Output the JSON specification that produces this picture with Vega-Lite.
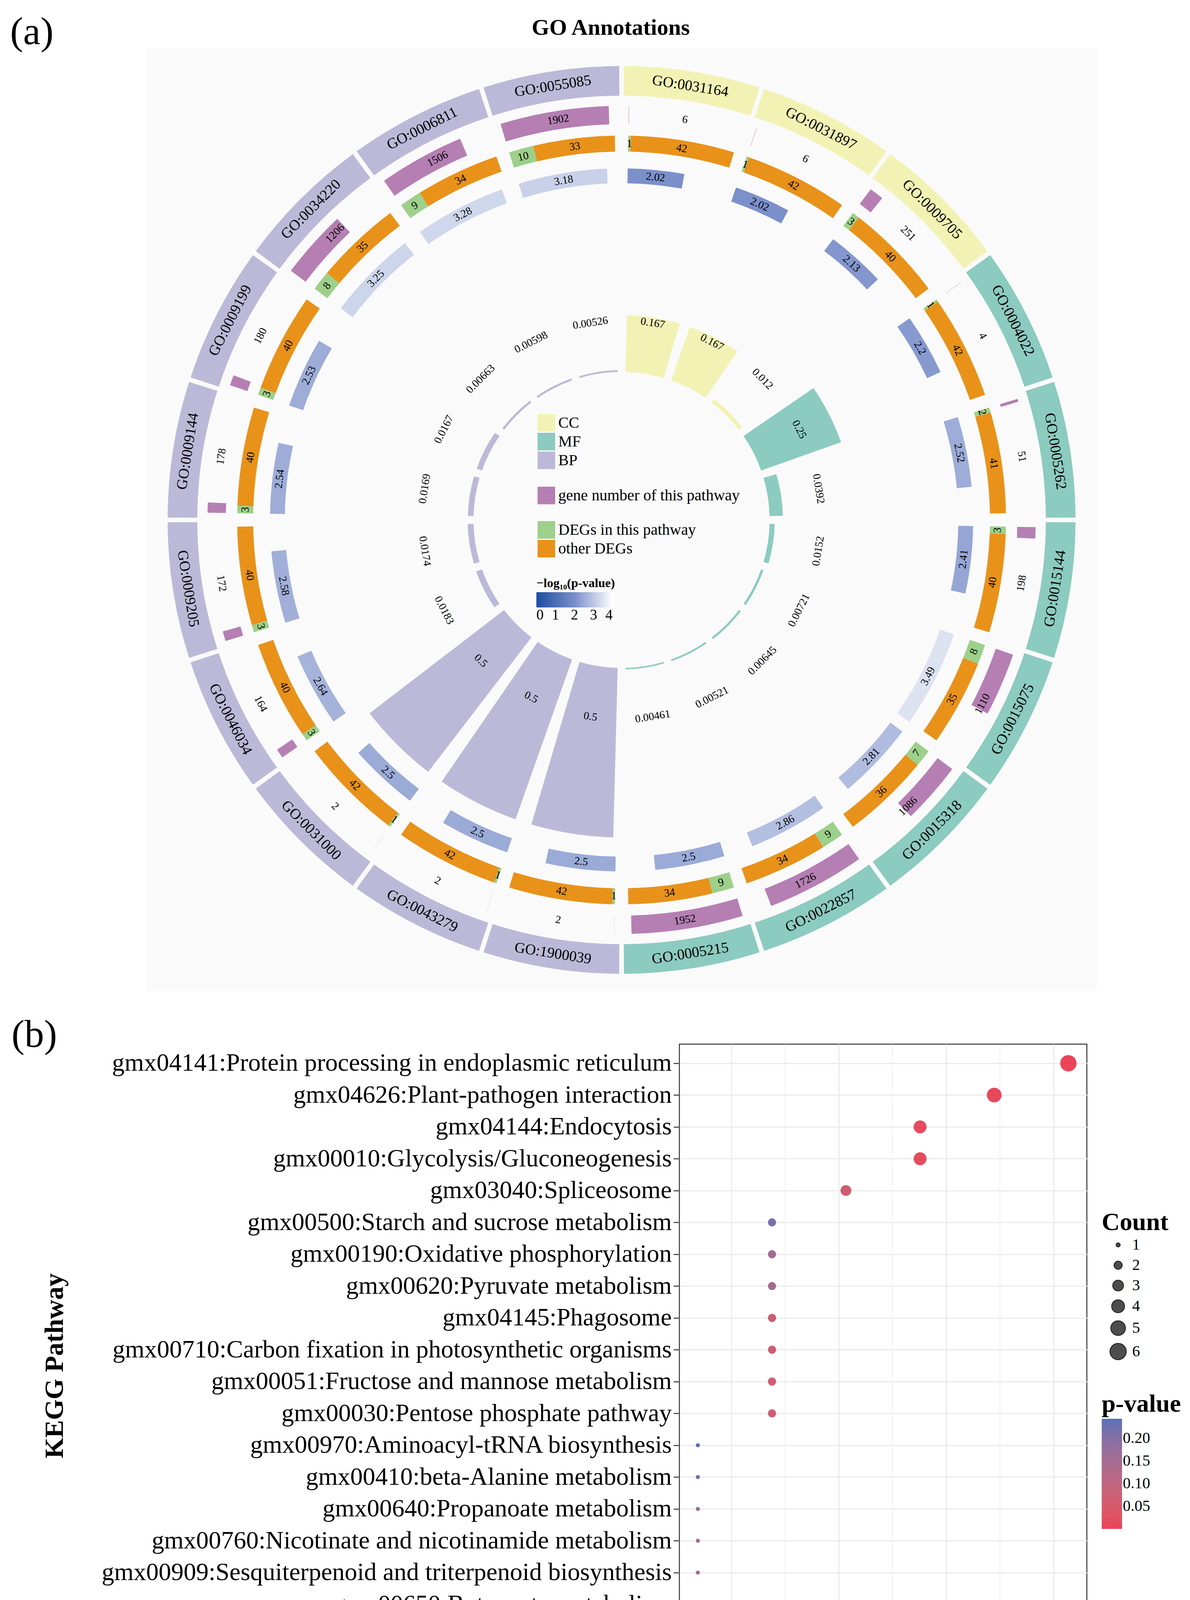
{
  "$schema": "https://vega.github.io/schema/vega-lite/v6.json",
  "background": "white",
  "padding": {"left": 26, "top": 33, "right": 5, "bottom": 5},
  "title": {"text": "GO Annotations", "anchor": "start", "frame": "bounds", "dx": 1335, "offset": -114, "baseline": "alphabetic", "fontSize": 58, "fontWeight": "bold", "font": "Liberation Serif", "color": "black"},
  "config": {"font": "Liberation Serif", "view": {"stroke": null}},
  "datasets": {
    "go": [
      {"term": "GO:0031164", "cat": "CC", "genes": 6, "deg": 1, "other": 42, "logp": 2.02, "rf": 0.167},
      {"term": "GO:0031897", "cat": "CC", "genes": 6, "deg": 1, "other": 42, "logp": 2.02, "rf": 0.167},
      {"term": "GO:0009705", "cat": "CC", "genes": 251, "deg": 3, "other": 40, "logp": 2.13, "rf": 0.012},
      {"term": "GO:0004022", "cat": "MF", "genes": 4, "deg": 1, "other": 42, "logp": 2.2, "rf": 0.25},
      {"term": "GO:0005262", "cat": "MF", "genes": 51, "deg": 2, "other": 41, "logp": 2.52, "rf": 0.0392},
      {"term": "GO:0015144", "cat": "MF", "genes": 198, "deg": 3, "other": 40, "logp": 2.41, "rf": 0.0152},
      {"term": "GO:0015075", "cat": "MF", "genes": 1110, "deg": 8, "other": 35, "logp": 3.49, "rf": 0.00721},
      {"term": "GO:0015318", "cat": "MF", "genes": 1086, "deg": 7, "other": 36, "logp": 2.81, "rf": 0.00645},
      {"term": "GO:0022857", "cat": "MF", "genes": 1726, "deg": 9, "other": 34, "logp": 2.86, "rf": 0.00521},
      {"term": "GO:0005215", "cat": "MF", "genes": 1952, "deg": 9, "other": 34, "logp": 2.5, "rf": 0.00461},
      {"term": "GO:1900039", "cat": "BP", "genes": 2, "deg": 1, "other": 42, "logp": 2.5, "rf": 0.5},
      {"term": "GO:0043279", "cat": "BP", "genes": 2, "deg": 1, "other": 42, "logp": 2.5, "rf": 0.5},
      {"term": "GO:0031000", "cat": "BP", "genes": 2, "deg": 1, "other": 42, "logp": 2.5, "rf": 0.5},
      {"term": "GO:0046034", "cat": "BP", "genes": 164, "deg": 3, "other": 40, "logp": 2.64, "rf": 0.0183},
      {"term": "GO:0009205", "cat": "BP", "genes": 172, "deg": 3, "other": 40, "logp": 2.58, "rf": 0.0174},
      {"term": "GO:0009144", "cat": "BP", "genes": 178, "deg": 3, "other": 40, "logp": 2.54, "rf": 0.0169},
      {"term": "GO:0009199", "cat": "BP", "genes": 180, "deg": 3, "other": 40, "logp": 2.53, "rf": 0.0167},
      {"term": "GO:0034220", "cat": "BP", "genes": 1206, "deg": 8, "other": 35, "logp": 3.25, "rf": 0.00663},
      {"term": "GO:0006811", "cat": "BP", "genes": 1506, "deg": 9, "other": 34, "logp": 3.28, "rf": 0.00598},
      {"term": "GO:0055085", "cat": "BP", "genes": 1902, "deg": 10, "other": 33, "logp": 3.18, "rf": 0.00526}
    ],
    "kegg": [
      {"pathway": "gmx04141:Protein processing in endoplasmic reticulum", "count": 6, "ratio": 0.2069, "p": 0.004},
      {"pathway": "gmx04626:Plant-pathogen interaction", "count": 5, "ratio": 0.1724, "p": 0.01},
      {"pathway": "gmx04144:Endocytosis", "count": 4, "ratio": 0.1379, "p": 0.015},
      {"pathway": "gmx00010:Glycolysis/Gluconeogenesis", "count": 4, "ratio": 0.1379, "p": 0.015},
      {"pathway": "gmx03040:Spliceosome", "count": 3, "ratio": 0.1034, "p": 0.065},
      {"pathway": "gmx00500:Starch and sucrose metabolism", "count": 2, "ratio": 0.069, "p": 0.215},
      {"pathway": "gmx00190:Oxidative phosphorylation", "count": 2, "ratio": 0.069, "p": 0.155},
      {"pathway": "gmx00620:Pyruvate metabolism", "count": 2, "ratio": 0.069, "p": 0.15},
      {"pathway": "gmx04145:Phagosome", "count": 2, "ratio": 0.069, "p": 0.07},
      {"pathway": "gmx00710:Carbon fixation in photosynthetic organisms", "count": 2, "ratio": 0.069, "p": 0.07},
      {"pathway": "gmx00051:Fructose and mannose metabolism", "count": 2, "ratio": 0.069, "p": 0.07},
      {"pathway": "gmx00030:Pentose phosphate pathway", "count": 2, "ratio": 0.069, "p": 0.07},
      {"pathway": "gmx00970:Aminoacyl-tRNA biosynthesis", "count": 1, "ratio": 0.0345, "p": 0.24},
      {"pathway": "gmx00410:beta-Alanine metabolism", "count": 1, "ratio": 0.0345, "p": 0.225},
      {"pathway": "gmx00640:Propanoate metabolism", "count": 1, "ratio": 0.0345, "p": 0.165},
      {"pathway": "gmx00760:Nicotinate and nicotinamide metabolism", "count": 1, "ratio": 0.0345, "p": 0.16},
      {"pathway": "gmx00909:Sesquiterpenoid and triterpenoid biosynthesis", "count": 1, "ratio": 0.0345, "p": 0.16},
      {"pathway": "gmx00650:Butanoate metabolism", "count": 1, "ratio": 0.0345, "p": 0.12},
      {"pathway": "gmx00430:Taurine and hypotaurine metabolism", "count": 1, "ratio": 0.0345, "p": 0.11},
      {"pathway": "gmx00450:Selenocompound metabolism", "count": 1, "ratio": 0.0345, "p": 0.11}
    ]
  },
  "spacing": 61,
  "vconcat": [
    {
      "width": 2434,
      "height": 2412,
      "view": {"fill": "#fafafa", "stroke": null},
      "title": {"text": "(a)", "orient": "left", "anchor": "end", "angle": 0, "align": "right", "baseline": "alphabetic", "offset": 126, "dy": -12, "fontSize": 100, "fontWeight": "normal", "font": "Liberation Serif", "color": "black"},
      "data": {"name": "go"},
      "transform": [
        {"window": [{"op": "row_number", "as": "rn"}]},
        {"calculate": "(datum.rn - 1) * 18", "as": "s"}
      ],
      "resolve": {"scale": {"color": "independent"}},
      "layer": [
        {
          "mark": {"type": "arc", "innerRadius": 1086, "outerRadius": 1162},
          "transform": [{"calculate": "datum.s + 0.3", "as": "a0"}, {"calculate": "datum.s + 17.7", "as": "a1"}],
          "encoding": {
            "theta": {"field": "a0", "type": "quantitative", "stack": null, "scale": {"domain": [0, 360], "range": [0, 6.283185307179586]}},
            "theta2": {"field": "a1"},
            "color": {"field": "cat", "type": "nominal", "scale": {"domain": ["CC", "MF", "BP"], "range": ["#f2f2b4", "#8ccbbf", "#bcb9d8"]},
              "legend": {"orient": "none", "legendX": 1002, "legendY": 935, "title": null, "symbolType": "square", "symbolSize": 2025, "symbolStrokeWidth": 0, "symbolOpacity": 1, "labelFontSize": 40, "labelFont": "Liberation Serif", "labelColor": "black", "rowPadding": 3, "labelOffset": 8}}
          }
        },
        {
          "mark": {"type": "text", "radius": 1124, "fontSize": 38, "font": "Liberation Serif", "color": "black", "align": "center", "baseline": "middle"},
          "transform": [{"calculate": "datum.s + 9", "as": "m"}, {"calculate": "datum.m <= 90 ? datum.m : (datum.m <= 270 ? datum.m - 180 : datum.m - 360)", "as": "rot"}],
          "encoding": {
            "theta": {"field": "m", "type": "quantitative", "stack": null, "scale": {"domain": [0, 360], "range": [0, 6.283185307179586]}},
            "text": {"field": "term", "type": "nominal"},
            "angle": {"field": "rot", "type": "quantitative", "scale": null}
          }
        },
        {
          "mark": {"type": "arc", "innerRadius": 1013, "outerRadius": 1060},
          "transform": [{"calculate": "datum.s + 1", "as": "a0"}, {"calculate": "datum.s + 1 + datum.genes * 0.008", "as": "a1"}],
          "encoding": {
            "theta": {"field": "a0", "type": "quantitative", "stack": null, "scale": {"domain": [0, 360], "range": [0, 6.283185307179586]}},
            "theta2": {"field": "a1"},
            "color": {"datum": "gene number of this pathway", "type": "nominal", "scale": {"range": ["#b57fb3"]},
              "legend": {"orient": "none", "legendX": 1002, "legendY": 1121, "title": null, "symbolType": "square", "symbolSize": 2025, "symbolStrokeWidth": 0, "symbolOpacity": 1, "labelFontSize": 40, "labelFont": "Liberation Serif", "labelColor": "black", "labelOffset": 8, "labelLimit": 1000}}
          }
        },
        {
          "mark": {"type": "text", "radius": 1037, "fontSize": 28, "font": "Liberation Serif", "color": "black", "align": "center", "baseline": "middle"},
          "transform": [{"calculate": "datum.s + 9", "as": "m"}, {"calculate": "datum.m <= 90 ? datum.m : (datum.m <= 270 ? datum.m - 180 : datum.m - 360)", "as": "rot"}],
          "encoding": {
            "theta": {"field": "m", "type": "quantitative", "stack": null, "scale": {"domain": [0, 360], "range": [0, 6.283185307179586]}},
            "text": {"field": "genes", "type": "quantitative", "format": "~g"},
            "angle": {"field": "rot", "type": "quantitative", "scale": null}
          }
        },
        {
          "mark": {"type": "arc", "innerRadius": 943, "outerRadius": 984},
          "transform": [
            {"fold": ["deg", "other"], "as": ["key", "val"]},
            {"calculate": "datum.key == 'deg' ? datum.s + 1 : datum.s + 1 + 16 * datum.deg / (datum.deg + datum.other)", "as": "a0"},
            {"calculate": "datum.key == 'deg' ? datum.s + 1 + 16 * datum.deg / (datum.deg + datum.other) : datum.s + 17", "as": "a1"}
          ],
          "encoding": {
            "theta": {"field": "a0", "type": "quantitative", "stack": null, "scale": {"domain": [0, 360], "range": [0, 6.283185307179586]}},
            "theta2": {"field": "a1"},
            "color": {"field": "key", "type": "nominal", "scale": {"domain": ["deg", "other"], "range": ["#9dd08a", "#e8921a"]},
              "legend": {"orient": "none", "legendX": 1002, "legendY": 1209, "title": null, "symbolType": "square", "symbolSize": 2025, "symbolStrokeWidth": 0, "symbolOpacity": 1, "labelFontSize": 40, "labelFont": "Liberation Serif", "labelColor": "black", "rowPadding": 3, "labelOffset": 8, "labelLimit": 1000,
                "labelExpr": "datum.value == 'deg' ? 'DEGs in this pathway' : 'other DEGs'"}}
          }
        },
        {
          "mark": {"type": "text", "radius": 963, "fontSize": 28, "font": "Liberation Serif", "color": "black", "align": "center", "baseline": "middle"},
          "transform": [
            {"fold": ["deg", "other"], "as": ["key", "val"]},
            {"calculate": "datum.key == 'deg' ? datum.s + 1 + 8 * datum.deg / (datum.deg + datum.other) : datum.s + 9 + 8 * datum.deg / (datum.deg + datum.other)", "as": "m"},
            {"calculate": "datum.m <= 90 ? datum.m : (datum.m <= 270 ? datum.m - 180 : datum.m - 360)", "as": "rot"}
          ],
          "encoding": {
            "theta": {"field": "m", "type": "quantitative", "stack": null, "scale": {"domain": [0, 360], "range": [0, 6.283185307179586]}},
            "text": {"field": "val", "type": "quantitative", "format": "~g"},
            "angle": {"field": "rot", "type": "quantitative", "scale": null}
          }
        },
        {
          "mark": {"type": "arc", "innerRadius": 862, "outerRadius": 900},
          "transform": [{"calculate": "datum.s + 1", "as": "a0"}, {"calculate": "datum.s + 1 + datum.logp * 4.6", "as": "a1"}],
          "encoding": {
            "theta": {"field": "a0", "type": "quantitative", "stack": null, "scale": {"domain": [0, 360], "range": [0, 6.283185307179586]}},
            "theta2": {"field": "a1"},
            "color": {"field": "logp", "type": "quantitative", "scale": {"domain": [0, 2, 4], "range": ["#1e4ca0", "#7a8fca", "#ffffff"], "interpolate": "rgb", "nice": false},
              "legend": {"orient": "none", "legendX": 999, "legendY": 1353, "direction": "horizontal", "title": "−log₁₀(p-value)", "titleFontSize": 32, "titleFontWeight": "bold", "titleFont": "Liberation Serif", "titleColor": "black", "titlePadding": 6, "gradientLength": 195, "gradientThickness": 39, "values": [0, 1, 2, 3, 4], "labelFontSize": 37, "labelFont": "Liberation Serif", "labelColor": "black", "gradientStrokeWidth": 0, "titleLimit": 1000}}
          }
        },
        {
          "mark": {"type": "text", "radius": 881, "fontSize": 28, "font": "Liberation Serif", "color": "black", "align": "center", "baseline": "middle"},
          "transform": [{"calculate": "datum.s + 1 + datum.logp * 2.3", "as": "m"}, {"calculate": "datum.m <= 90 ? datum.m : (datum.m <= 270 ? datum.m - 180 : datum.m - 360)", "as": "rot"}],
          "encoding": {
            "theta": {"field": "m", "type": "quantitative", "stack": null, "scale": {"domain": [0, 360], "range": [0, 6.283185307179586]}},
            "text": {"field": "logp", "type": "quantitative", "format": "~g"},
            "angle": {"field": "rot", "type": "quantitative", "scale": null}
          }
        },
        {
          "mark": {"type": "arc", "innerRadius": 379},
          "transform": [{"calculate": "datum.s + 1.5", "as": "a0"}, {"calculate": "datum.s + 16.5", "as": "a1"}],
          "encoding": {
            "theta": {"field": "a0", "type": "quantitative", "stack": null, "scale": {"domain": [0, 360], "range": [0, 6.283185307179586]}},
            "theta2": {"field": "a1"},
            "radius": {"field": "rf", "type": "quantitative", "scale": {"type": "linear", "domain": [0, 0.5], "range": [379, 813], "zero": false}},
            "color": {"field": "cat", "type": "nominal", "scale": {"domain": ["CC", "MF", "BP"], "range": ["#f2f2b4", "#8ccbbf", "#bcb9d8"]}, "legend": null}
          }
        },
        {
          "mark": {"type": "text", "radius": 510, "fontSize": 28, "font": "Liberation Serif", "color": "black", "align": "center", "baseline": "middle"},
          "transform": [{"calculate": "datum.s + 9", "as": "m"}, {"calculate": "datum.m <= 90 ? datum.m : (datum.m <= 270 ? datum.m - 180 : datum.m - 360)", "as": "rot"}],
          "encoding": {
            "theta": {"field": "m", "type": "quantitative", "stack": null, "scale": {"domain": [0, 360], "range": [0, 6.283185307179586]}},
            "text": {"field": "rf", "type": "quantitative", "format": "~g"},
            "angle": {"field": "rot", "type": "quantitative", "scale": null}
          }
        }
      ]
    },
    {
      "bounds": "flush",
      "spacing": 15,
      "hconcat": [
        {"width": 1350, "height": 1646, "data": {"values": []}, "mark": "point"},
        {
          "width": 1043,
          "height": 1646,
          "view": {"stroke": "#333333", "strokeWidth": 2.5, "fill": "white"},
          "title": {"text": "(b)", "orient": "left", "anchor": "end", "angle": 0, "align": "right", "baseline": "alphabetic", "offset": -156, "dy": 7, "fontSize": 100, "fontWeight": "normal", "font": "Liberation Serif", "color": "black"},
          "data": {"name": "kegg"},
          "mark": {"type": "point", "filled": true, "opacity": 0.8, "shape": "circle"},
          "encoding": {
            "y": {"field": "pathway", "type": "nominal", "sort": null, "scale": {"type": "point", "padding": 0.6},
              "axis": {"title": "KEGG Pathway", "titleFontSize": 68, "titleFontWeight": "bold", "titleFont": "Liberation Serif", "titleColor": "black", "titlePadding": 85,
                "labelFontSize": 64, "labelFont": "Liberation Serif", "labelColor": "black", "labelPadding": 5, "labelLimit": 3000, "maxExtent": 1700,
                "grid": true, "gridColor": "#ebebeb", "gridWidth": 3, "domain": false, "tickSize": 15, "tickColor": "#333333", "tickWidth": 2.5}},
            "x": {"field": "ratio", "type": "quantitative", "scale": {"domain": [0.0259, 0.2155], "nice": false, "zero": false},
              "axis": {"title": "GeneRatio", "titleFontSize": 68, "titleFontWeight": "bold", "titleFont": "Liberation Serif", "titleColor": "black", "titlePadding": 80,
                "values": [0.05, 0.075, 0.1, 0.125, 0.15, 0.175, 0.2],
                "labelExpr": "round(datum.value * 1000) % 50 == 0 ? format(datum.value, '.2f') : ''",
                "labelFontSize": 52, "labelFont": "Liberation Serif", "labelColor": "black", "labelPadding": 8,
                "grid": true, "gridColor": "#ebebeb",
                "gridWidth": {"condition": {"test": "round(datum.value * 1000) % 50 == 0", "value": 3}, "value": 1.5},
                "domain": false, "tickSize": 15, "tickWidth": 2.5,
                "tickColor": {"condition": {"test": "round(datum.value * 1000) % 50 == 0", "value": "#333333"}, "value": "transparent"}}},
            "size": {"field": "count", "type": "quantitative", "scale": {"domain": [1, 6], "range": [110, 1750]},
              "legend": {"orient": "none", "legendX": 2446, "legendY": 2973, "title": "Count", "titleFontSize": 64, "titleFontWeight": "bold", "titleFont": "Liberation Serif", "titleColor": "black", "titleLimit": 1000,
                "values": [1, 2, 3, 4, 5, 6], "labelFontSize": 40, "labelFont": "Liberation Serif", "labelColor": "black", "rowPadding": 12,
                "symbolFillColor": "#4d4d4d", "symbolStrokeColor": "#1a1a1a", "symbolStrokeWidth": 2, "symbolOpacity": 1, "symbolOffset": 20, "labelOffset": 14}},
            "color": {"field": "p", "type": "quantitative", "scale": {"domain": [0, 0.243], "range": ["#e8112d", "#2c4fa3"], "interpolate": "lab", "nice": false},
              "legend": {"orient": "none", "legendX": 2446, "legendY": 3438, "title": "p-value", "titleFontSize": 64, "titleFontWeight": "bold", "titleFont": "Liberation Serif", "titleColor": "black", "titleLimit": 1000,
                "direction": "vertical", "gradientLength": 282, "gradientThickness": 52, "values": [0.05, 0.1, 0.15, 0.2], "format": ".2f", "offset": 0,
                "labelFontSize": 40, "labelFont": "Liberation Serif", "labelColor": "black", "gradientStrokeWidth": 0}}
          }
        }
      ]
    }
  ]
}
